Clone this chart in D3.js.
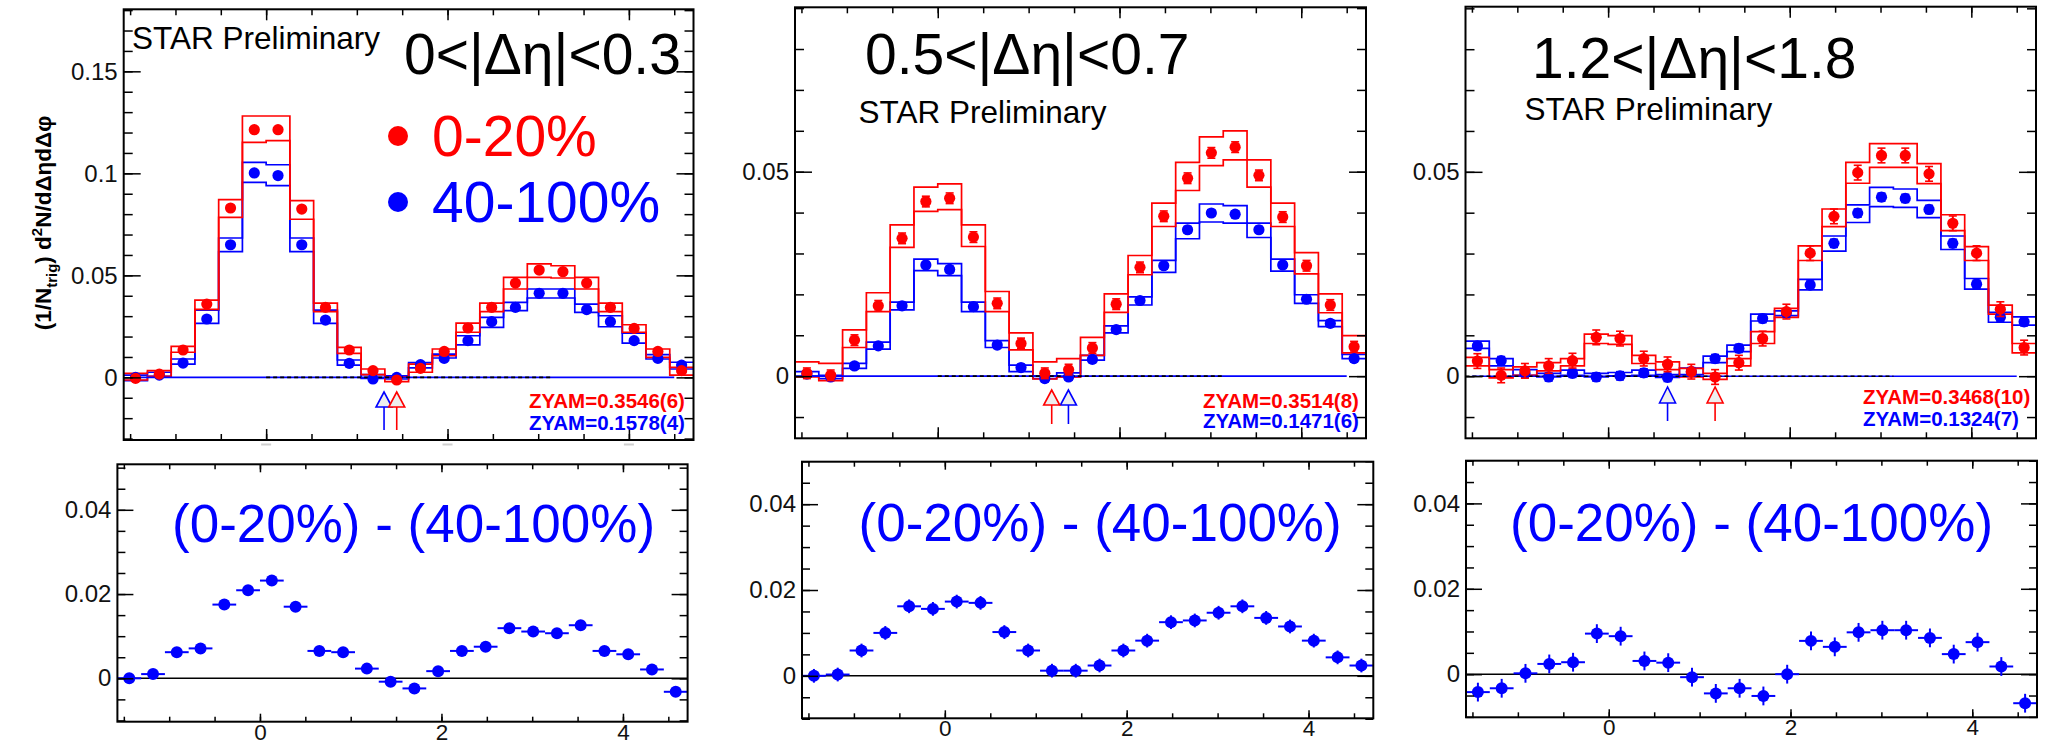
<!DOCTYPE html>
<html>
<head>
<meta charset="utf-8">
<script src="https://cdn.jsdelivr.net/npm/d3@7"></script>
<style>
  html, body { margin: 0; padding: 0; background: #fff; }
  svg text { font-family: "Liberation Sans", Arial, Helvetica, sans-serif; }
</style>
</head>
<body>
<svg id="chart" width="2053" height="746"></svg>
<script>
// Δφ bin centres: 24 bins of width π/12 from -π/2 to 3π/2
const dphi = [-1.4399, -1.1781, -0.9163, -0.6545, -0.3927, -0.1309, 0.1309, 0.3927,
              0.6545, 0.9163, 1.1781, 1.4399, 1.7017, 1.9635, 2.2253, 2.4871,
              2.7489, 3.0107, 3.2725, 3.5343, 3.7961, 4.0579, 4.3197, 4.5815];
const binHalfWidth = 0.1309;

// ---- 0<|Δη|<0.3 ----
const cen03   = [-0.0005, 0.0016, 0.0134, 0.0359, 0.0830, 0.1214, 0.1214, 0.0825, 0.0343, 0.0134, 0.0033, -0.0013,
                  0.0044, 0.0127, 0.0242, 0.0343, 0.0462, 0.0526, 0.0518, 0.0462, 0.0343, 0.0240, 0.0127, 0.0033];
const cen03Hi = [0.0020, 0.0033, 0.0152, 0.0379, 0.0871, 0.1281, 0.1281, 0.0866, 0.0364, 0.0147, 0.0041, 0.0003,
                 0.0065, 0.0139, 0.0266, 0.0364, 0.0490, 0.0556, 0.0547, 0.0490, 0.0364, 0.0258, 0.0139, 0.0049];
const cen03Lo = [-0.0013, 0.0005, 0.0123, 0.0333, 0.0784, 0.1152, 0.1160, 0.0775, 0.0322, 0.0118, 0.0013, -0.0021,
                 0.0025, 0.0106, 0.0221, 0.0322, 0.0433, 0.0490, 0.0487, 0.0433, 0.0322, 0.0221, 0.0098, 0.0011];
const per03   = [0.0000, 0.0011, 0.0070, 0.0286, 0.0650, 0.1002, 0.0989, 0.0650, 0.0281, 0.0069, -0.0008, 0.0000,
                 0.0062, 0.0093, 0.0180, 0.0273, 0.0343, 0.0412, 0.0412, 0.0332, 0.0273, 0.0180, 0.0093, 0.0060];
const per03Hi = [0.0011, 0.0025, 0.0090, 0.0330, 0.0683, 0.1054, 0.1042, 0.0683, 0.0330, 0.0085, 0.0013, 0.0008,
                 0.0072, 0.0114, 0.0204, 0.0294, 0.0368, 0.0433, 0.0433, 0.0359, 0.0302, 0.0217, 0.0111, 0.0074];
const per03Lo = [-0.0016, 0.0005, 0.0065, 0.0265, 0.0616, 0.0956, 0.0940, 0.0616, 0.0265, 0.0060, -0.0005, -0.0008,
                 0.0047, 0.0095, 0.0159, 0.0245, 0.0327, 0.0389, 0.0389, 0.0319, 0.0248, 0.0168, 0.0090, 0.0041];
const diff03  = [0.0000, 0.0010, 0.0062, 0.0071, 0.0175, 0.0209, 0.0232, 0.0170, 0.0065, 0.0062, 0.0023, -0.0008,
                 -0.0024, 0.0017, 0.0065, 0.0075, 0.0119, 0.0111, 0.0107, 0.0126, 0.0065, 0.0057, 0.0021, -0.0032];

// ---- 0.5<|Δη|<0.7 ----
const cen57   = [0.0007, 0.0002, 0.0088, 0.0172, 0.0337, 0.0427, 0.0435, 0.0340, 0.0178, 0.0080, 0.0007, 0.0016,
                 0.0069, 0.0176, 0.0266, 0.0391, 0.0484, 0.0546, 0.0560, 0.0491, 0.0389, 0.0270, 0.0174, 0.0072];
const cen57Hi = [0.0035, 0.0031, 0.0113, 0.0204, 0.0370, 0.0462, 0.0470, 0.0370, 0.0207, 0.0106, 0.0035, 0.0043,
                 0.0095, 0.0201, 0.0295, 0.0423, 0.0523, 0.0585, 0.0600, 0.0529, 0.0423, 0.0302, 0.0201, 0.0099];
const cen57Lo = [-0.0002, -0.0011, 0.0070, 0.0158, 0.0315, 0.0403, 0.0407, 0.0317, 0.0158, 0.0064, -0.0007, -0.0002,
                 0.0051, 0.0156, 0.0248, 0.0366, 0.0454, 0.0515, 0.0529, 0.0462, 0.0366, 0.0250, 0.0155, 0.0057];
const per57   = [0.0005, -0.0002, 0.0025, 0.0074, 0.0172, 0.0272, 0.0261, 0.0170, 0.0076, 0.0021, -0.0006, -0.0002,
                 0.0041, 0.0114, 0.0185, 0.0270, 0.0358, 0.0399, 0.0396, 0.0358, 0.0272, 0.0188, 0.0129, 0.0043];
const per57Hi = [0.0011, 0.0002, 0.0031, 0.0083, 0.0181, 0.0286, 0.0275, 0.0181, 0.0087, 0.0027, 0.0001, 0.0008,
                 0.0051, 0.0123, 0.0194, 0.0283, 0.0374, 0.0421, 0.0417, 0.0374, 0.0286, 0.0199, 0.0136, 0.0053];
const per57Lo = [0.0000, -0.0006, 0.0019, 0.0066, 0.0162, 0.0258, 0.0246, 0.0158, 0.0070, 0.0011, -0.0006, -0.0002,
                 0.0039, 0.0106, 0.0174, 0.0254, 0.0336, 0.0377, 0.0374, 0.0339, 0.0257, 0.0178, 0.0121, 0.0043];
const diff57  = [0.0000, 0.0003, 0.0059, 0.0100, 0.0162, 0.0156, 0.0173, 0.0170, 0.0102, 0.0059, 0.0012, 0.0012,
                 0.0024, 0.0059, 0.0082, 0.0125, 0.0129, 0.0147, 0.0162, 0.0135, 0.0115, 0.0082, 0.0043, 0.0024];

// ---- 1.2<|Δη|<1.8 ----
const cen1218   = [0.0037, 0.0002, 0.0013, 0.0025, 0.0038, 0.0095, 0.0092, 0.0043, 0.0029, 0.0011, -0.0002, 0.0033,
                   0.0092, 0.0158, 0.0301, 0.0391, 0.0498, 0.0540, 0.0540, 0.0495, 0.0374, 0.0301, 0.0164, 0.0070];
const cen1218Hi = [0.0046, 0.0016, 0.0023, 0.0033, 0.0043, 0.0103, 0.0099, 0.0051, 0.0035, 0.0019, 0.0007, 0.0043,
                   0.0109, 0.0166, 0.0319, 0.0409, 0.0523, 0.0569, 0.0569, 0.0520, 0.0395, 0.0317, 0.0174, 0.0080];
const cen1218Lo = [0.0025, -0.0004, 0.0002, 0.0013, 0.0025, 0.0080, 0.0078, 0.0031, 0.0016, -0.0002, -0.0008, 0.0025,
                   0.0080, 0.0144, 0.0283, 0.0366, 0.0472, 0.0511, 0.0511, 0.0471, 0.0356, 0.0283, 0.0152, 0.0057];
const per1218   = [0.0074, 0.0038, 0.0007, -0.0002, 0.0007, -0.0002, 0.0001, 0.0008, -0.0003, 0.0011, 0.0043, 0.0068,
                   0.0141, 0.0155, 0.0223, 0.0325, 0.0399, 0.0438, 0.0435, 0.0408, 0.0325, 0.0225, 0.0144, 0.0133];
const per1218Hi = [0.0086, 0.0043, 0.0016, 0.0007, 0.0015, 0.0007, 0.0009, 0.0015, 0.0004, 0.0020, 0.0049, 0.0076,
                   0.0152, 0.0160, 0.0237, 0.0343, 0.0419, 0.0462, 0.0458, 0.0430, 0.0343, 0.0239, 0.0156, 0.0145];
const per1218Lo = [0.0068, 0.0025, 0.0002, -0.0002, 0.0002, -0.0002, 0.0001, 0.0002, -0.0003, 0.0004, 0.0033, 0.0060,
                   0.0135, 0.0148, 0.0211, 0.0306, 0.0376, 0.0415, 0.0413, 0.0388, 0.0310, 0.0213, 0.0132, 0.0125];
const diff1218  = [-0.0042, -0.0033, 0.0002, 0.0024, 0.0028, 0.0095, 0.0089, 0.0031, 0.0027, -0.0007, -0.0045, -0.0033,
                   -0.0051, 0.0000, 0.0078, 0.0064, 0.0098, 0.0103, 0.0103, 0.0085, 0.0047, 0.0075, 0.0018, -0.0068];

// statistical errors (central, peripheral, difference) per Δη window
const statCentral    = [0.0012, 0.0013, 0.0018];
const statPeripheral = [0.0008, 0.0008, 0.0010];
const statDiff       = [0.0008, 0.0016, 0.0022];

// ZYAM normalisation points and labels
const zyamPosCentral    = [1.4399, 1.254, 1.1781];
const zyamPosPeripheral = [1.30, 1.438, 0.6545];
const zyamTextCentral    = ["ZYAM=0.3546(6)", "ZYAM=0.3514(8)", "ZYAM=0.3468(10)"];
const zyamTextPeripheral = ["ZYAM=0.1578(4)", "ZYAM=0.1471(6)", "ZYAM=0.1324(7)"];

// labels
const etaLabels = ["0<|\u0394\u03b7|<0.3", "0.5<|\u0394\u03b7|<0.7", "1.2<|\u0394\u03b7|<1.8"];
const centralityLabels = ["0-20%", "40-100%"];
const diffLabel = "(0-20%) - (40-100%)";
const starLabel = "STAR Preliminary";

// ticks
const xTicks = [0, 2, 4];
const xMinorTicks = [-1.5, -1, -0.5, 0, 0.5, 1, 1.5, 2, 2.5, 3, 3.5, 4, 4.5];
const yTicksTopWide = [0, 0.05, 0.1, 0.15];
const yTicksTop = [0, 0.05];
const yTicksBottom = [0, 0.02, 0.04];
const yMinorTopWide = [-0.03, -0.02, -0.01, 0, 0.01, 0.02, 0.03, 0.04, 0.05, 0.06, 0.07, 0.08, 0.09, 0.1, 0.11, 0.12, 0.13, 0.14, 0.15, 0.16, 0.17, 0.18];
const yMinorTop = [-0.01, 0, 0.01, 0.02, 0.03, 0.04, 0.05, 0.06, 0.07, 0.08, 0.09];
const yMinorBottom = [-0.01, -0.005, 0, 0.005, 0.01, 0.015, 0.02, 0.025, 0.03, 0.035, 0.04, 0.045, 0.05];

// ------------------------------------------------------------------
const RED = "#ff0000", BLUE = "#0000ff";
const PHI_DOMAIN = [-Math.PI / 2, 3 * Math.PI / 2];
const svg = d3.select("#chart");

const topPanels = [
  { box: [123.7, 693.5, 9.3, 440], yDom: [-0.0307, 0.1804], yMajor: yTicksTopWide, yMinor: yMinorTopWide,
    cen: cen03, cenHi: cen03Hi, cenLo: cen03Lo, per: per03, perHi: per03Hi, perLo: per03Lo,
    title: [404, 74], star: [132, 49], zyam: [529, 408, 430], arrow: [392, 407, 430], dash: [0, Math.PI] },
  { box: [795, 1366, 7.3, 438.3], yDom: [-0.0152, 0.0902], yMajor: yTicksTop, yMinor: yMinorTop,
    cen: cen57, cenHi: cen57Hi, cenLo: cen57Lo, per: per57, perHi: per57Hi, perLo: per57Lo,
    title: [865, 74], star: [858.6, 122.7], zyam: [1203, 408, 428], arrow: [390, 405, 424], dash: [0, Math.PI] },
  { box: [1465.5, 2036, 6.7, 438.3], yDom: [-0.0152, 0.0904], yMajor: yTicksTop, yMinor: yMinorTop,
    cen: cen1218, cenHi: cen1218Hi, cenLo: cen1218Lo, per: per1218, perHi: per1218Hi, perLo: per1218Lo,
    title: [1532, 78], star: [1524.4, 120], zyam: [1863, 404, 426], arrow: [387, 403, 421], dash: [-Math.PI / 2, Math.PI] }
];

const bottomPanels = [
  { box: [117.4, 687.6, 464.3, 721.7], yDom: [-0.0103, 0.0508], diff: diff03, text: [172, 542] },
  { box: [802, 1373.3, 461.7, 718.3], yDom: [-0.0099, 0.0499], diff: diff57, text: [858.6, 541] },
  { box: [1466, 2037, 460.7, 717.3], yDom: [-0.0101, 0.0500], diff: diff1218, text: [1510, 541] }
];

function drawAxes(g, x, y, o) {
  const [xl, xr] = x.range();
  const [yb, yt] = y.range();
  const fmt = d3.format("~g");
  const add = (tr, axis) => g.append("g").attr("class", "ax").attr("transform", tr).call(axis);

  add(`translate(${xl},0)`, d3.axisLeft(y).tickValues(o.yMinor).tickSize(-o.yMinorLen).tickFormat(""));
  add(`translate(${xl},0)`, d3.axisLeft(y).tickValues(o.yMajor).tickSize(-o.yMajorLen).tickPadding(6).tickFormat(fmt));
  add(`translate(${xr},0)`, d3.axisRight(y).tickValues(o.yMinor).tickSize(-o.yMinorLen).tickFormat(""));
  add(`translate(${xr},0)`, d3.axisRight(y).tickValues(o.yMajor).tickSize(-o.yMajorLen).tickFormat(""));
  add(`translate(0,${yb})`, d3.axisBottom(x).tickValues(xMinorTicks).tickSize(-o.xMinorLen).tickFormat(""));
  const bx = add(`translate(0,${yb})`, d3.axisBottom(x).tickValues(xTicks).tickSize(-o.xMajorLen).tickPadding(2)
      .tickFormat(o.xLabels ? fmt : ""));
  add(`translate(0,${yt})`, d3.axisTop(x).tickValues(xMinorTicks).tickSize(-o.xMinorLen).tickFormat(""));
  add(`translate(0,${yt})`, d3.axisTop(x).tickValues(xTicks).tickSize(-o.xMajorLen).tickFormat(""));

  g.selectAll(".ax .domain").remove();
  g.selectAll(".ax .tick line").attr("stroke", "#000").attr("stroke-width", 1.5);
  g.selectAll(".ax .tick text").attr("font-size", 24).attr("fill", "#111");
  bx.selectAll(".tick text").attr("font-size", 22.5);

  g.append("rect")
    .attr("x", xl).attr("y", yt).attr("width", xr - xl).attr("height", yb - yt)
    .attr("fill", "none").attr("stroke", "#000").attr("stroke-width", 2);
}

// step outline of a systematic band edge
function stepPath(x, y, vals) {
  const pts = [];
  vals.forEach((v, k) => {
    pts.push([dphi[k] - binHalfWidth, v]);
    pts.push([dphi[k] + binHalfWidth, v]);
  });
  return d3.line().x(d => x(d[0])).y(d => y(d[1]))(pts);
}

function drawPoints(g, x, y, vals, err, color, r, caps) {
  const pg = g.append("g");
  vals.forEach((v, k) => {
    const cx = x(dphi[k]);
    pg.append("line").attr("x1", cx).attr("x2", cx)
      .attr("y1", y(v - err)).attr("y2", y(v + err))
      .attr("stroke", color).attr("stroke-width", 2);
    if (caps) {
      [v - err, v + err].forEach(e => {
        pg.append("line").attr("x1", cx - 4).attr("x2", cx + 4)
          .attr("y1", y(e)).attr("y2", y(e))
          .attr("stroke", color).attr("stroke-width", 1.6);
      });
    }
  });
  pg.selectAll("circle").data(vals).join("circle")
    .attr("cx", (d, k) => x(dphi[k]))
    .attr("cy", d => y(d))
    .attr("r", r)
    .attr("fill", color);
}

function drawArrow(g, xp, a, color) {
  g.append("line").attr("x1", xp).attr("x2", xp).attr("y1", a[1]).attr("y2", a[2])
    .attr("stroke", color).attr("stroke-width", 1.6);
  g.append("path")
    .attr("d", `M${xp},${a[0]} L${xp - 8},${a[1]} L${xp + 8},${a[1]} Z`)
    .attr("fill", "#eeeeee").attr("stroke", color).attr("stroke-width", 1.6);
}

// ---------------- upper row: per-trigger correlations ----------------
topPanels.forEach((p, i) => {
  const g = svg.append("g");
  const x = d3.scaleLinear().domain(PHI_DOMAIN).range([p.box[0], p.box[1]]);
  const y = d3.scaleLinear().domain(p.yDom).range([p.box[3], p.box[2]]);

  // systematic bands
  [[p.perHi, p.perLo, BLUE], [p.cenHi, p.cenLo, RED]].forEach(([hi, lo, c]) => {
    [hi, lo].forEach(vals => {
      g.append("path").attr("d", stepPath(x, y, vals))
        .attr("fill", "none").attr("stroke", c).attr("stroke-width", 1.7);
    });
  });

  // ZYAM background level (zero after subtraction)
  g.append("line").attr("x1", x(-1.5)).attr("x2", x(4.5)).attr("y1", y(0)).attr("y2", y(0))
    .attr("stroke", BLUE).attr("stroke-width", 1.6);
  g.append("line").attr("x1", x(p.dash[0])).attr("x2", x(p.dash[1])).attr("y1", y(0)).attr("y2", y(0))
    .attr("stroke", "#000").attr("stroke-width", 1.6).attr("stroke-dasharray", "4,3");

  drawPoints(g, x, y, p.per, statPeripheral[i], BLUE, 5.6, true);
  drawPoints(g, x, y, p.cen, statCentral[i], RED, 5.6, true);

  drawAxes(g, x, y, { yMajor: p.yMajor, yMinor: p.yMinor, yMajorLen: 17, yMinorLen: 9,
                      xMajorLen: 11, xMinorLen: 6, xLabels: false });

  // ZYAM arrows
  drawArrow(g, x(zyamPosPeripheral[i]), p.arrow, BLUE);
  drawArrow(g, x(zyamPosCentral[i]), p.arrow, RED);

  g.append("text").attr("x", p.zyam[0]).attr("y", p.zyam[1]).attr("font-size", 20.5)
    .attr("font-weight", "bold").attr("fill", RED).text(zyamTextCentral[i]);
  g.append("text").attr("x", p.zyam[0]).attr("y", p.zyam[2]).attr("font-size", 20.5)
    .attr("font-weight", "bold").attr("fill", BLUE).text(zyamTextPeripheral[i]);

  g.append("text").attr("x", p.title[0]).attr("y", p.title[1]).attr("font-size", 57)
    .attr("fill", "#000").text(etaLabels[i]);
  g.append("text").attr("x", p.star[0]).attr("y", p.star[1]).attr("font-size", 31.5)
    .attr("fill", "#000").text(starLabel);
});

// clipped tick-label remnants under the first panel
{
  const x = d3.scaleLinear().domain(PHI_DOMAIN).range([topPanels[0].box[0], topPanels[0].box[1]]);
  svg.append("g").selectAll("rect").data(xTicks).join("rect")
    .attr("x", d => x(d) - 5).attr("y", 443.5).attr("width", 10).attr("height", 2)
    .attr("fill", "#cfcfcf");
}

// legend
{
  const lg = svg.append("g");
  [[RED, 136, 156], [BLUE, 202, 222]].forEach(([c, cy, ty], k) => {
    lg.append("circle").attr("cx", 398).attr("cy", cy).attr("r", 10).attr("fill", c);
    lg.append("text").attr("x", 432).attr("y", ty).attr("font-size", 57).attr("fill", c)
      .text(centralityLabels[k]);
  });
}

// y-axis title
{
  const t = svg.append("text")
    .attr("transform", "translate(51,223) rotate(-90)")
    .attr("text-anchor", "middle")
    .attr("font-size", 22.5).attr("font-weight", "bold").attr("fill", "#000");
  t.append("tspan").text("(1/N");
  t.append("tspan").attr("font-size", 15).attr("dy", 6).text("trig");
  t.append("tspan").attr("dy", -6).text(") d");
  t.append("tspan").attr("font-size", 15).attr("dy", -9).text("2");
  t.append("tspan").attr("dy", 9).text("N/d\u0394\u03b7d\u0394\u03c6");
}

// ---------------- lower row: central minus peripheral ----------------
bottomPanels.forEach((p, i) => {
  const g = svg.append("g");
  const x = d3.scaleLinear().domain(PHI_DOMAIN).range([p.box[0], p.box[1]]);
  const y = d3.scaleLinear().domain(p.yDom).range([p.box[3], p.box[2]]);

  g.append("line").attr("x1", p.box[0]).attr("x2", p.box[1]).attr("y1", y(0)).attr("y2", y(0))
    .attr("stroke", "#000").attr("stroke-width", 1.6);

  // horizontal bin-width bars
  g.append("g").selectAll("line").data(p.diff).join("line")
    .attr("x1", (d, k) => x(dphi[k] - binHalfWidth))
    .attr("x2", (d, k) => x(dphi[k] + binHalfWidth))
    .attr("y1", d => y(d)).attr("y2", d => y(d))
    .attr("stroke", BLUE).attr("stroke-width", 2);

  drawPoints(g, x, y, p.diff, statDiff[i], BLUE, 6, false);

  drawAxes(g, x, y, { yMajor: yTicksBottom, yMinor: yMinorBottom, yMajorLen: 16, yMinorLen: 8,
                      xMajorLen: 8, xMinorLen: 5, xLabels: true });

  g.append("text").attr("x", p.text[0]).attr("y", p.text[1]).attr("font-size", 53)
    .attr("fill", BLUE).text(diffLabel);
});
</script>
</body>
</html>
